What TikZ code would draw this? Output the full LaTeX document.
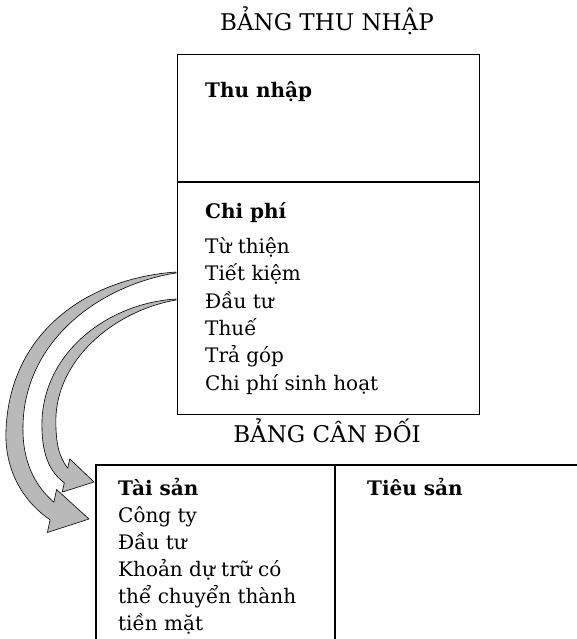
\documentclass[tikz,border=0pt]{standalone}
\usepackage{fontspec}
\setmainfont{DejaVu Serif}
\usetikzlibrary{positioning}

\begin{document}
\begin{tikzpicture}[x=1pt, y=-1pt,
    heading/.style={anchor=base, inner sep=0pt, font=\fontsize{23}{27}\selectfont},
    entry/.style={anchor=base west, inner sep=0pt, font=\fontsize{20}{27}\selectfont},
    colhead/.style={entry, font=\fontsize{20}{27}\selectfont\bfseries},
    frame/.style={draw, line width=1.1pt},
    bigarrow/.style={fill=gray!55, draw=black, line width=0.6pt, line join=round}]
\useasboundingbox (0,0) rectangle (577,639);

\node[heading] (inctitle) at (327, 31) {BẢNG THU NHẬP};
\node[frame, anchor=north west, minimum width=302pt, minimum height=360pt, inner sep=0pt] (income) at (177, 54) {};
\draw[frame] (income.west |- 0,182) -- (income.east |- 0,182);
\node[colhead] (thunhap) at (205, 98) {Thu nhập};
\node[colhead] (chiphi) at (205, 218) {Chi phí};
\foreach \txt [count=\i] in {Từ thiện, Tiết kiệm, Đầu tư, Thuế, Trả góp, Chi phí sinh hoạt}
    \node[entry] (cp\i) at (205, 226.2+27.3*\i) {\txt};

\node[heading] (baltitle) at (327, 442) {BẢNG CÂN ĐỐI};
\coordinate (balnw) at (96, 465);
\coordinate (balmid) at (335, 465);
\draw[frame] (578, 465) -- (balnw) -- (96, 640);
\draw[frame] (balmid) -- (335, 640);
\node[colhead] (taisan) at (118, 495) {Tài sản};
\node[colhead] (tieusan) at (367, 495) {Tiêu sản};
\foreach \txt [count=\i] in {Công ty, Đầu tư, Khoản dự trữ có, thể chuyển thành, tiền mặt}
    \node[entry] (ts\i) at (118, 495+27*\i) {\txt};

\coordinate (startA) at (176, 272);
\coordinate (startB) at (176, 299);
\coordinate (tipA) at (89, 519);
\coordinate (tipB) at (94, 482);
\filldraw[bigarrow] (startA) .. controls (90,278) and (10,330) .. (6,430)
    .. controls (4,475) and (28,505) .. (50.1,519.8)
    -- (47.4,532.5) -- (tipA) -- (56.6,489.5) -- (53.9,502.2)
    .. controls (34,485) and (22,460) .. (23,425)
    .. controls (25,340) and (100,285) .. (176,273) -- cycle;
\filldraw[bigarrow] (startB) .. controls (110,303) and (45,350) .. (42,420)
    .. controls (41,455) and (50,472) .. (64.3,482.8)
    -- (62.2,492.1) -- (tipB) -- (69.8,458.9) -- (67.7,468.2)
    .. controls (60,458) and (55,445) .. (56,415)
    .. controls (60,355) and (118,310) .. (176,300) -- cycle;
\end{tikzpicture}
\end{document}
